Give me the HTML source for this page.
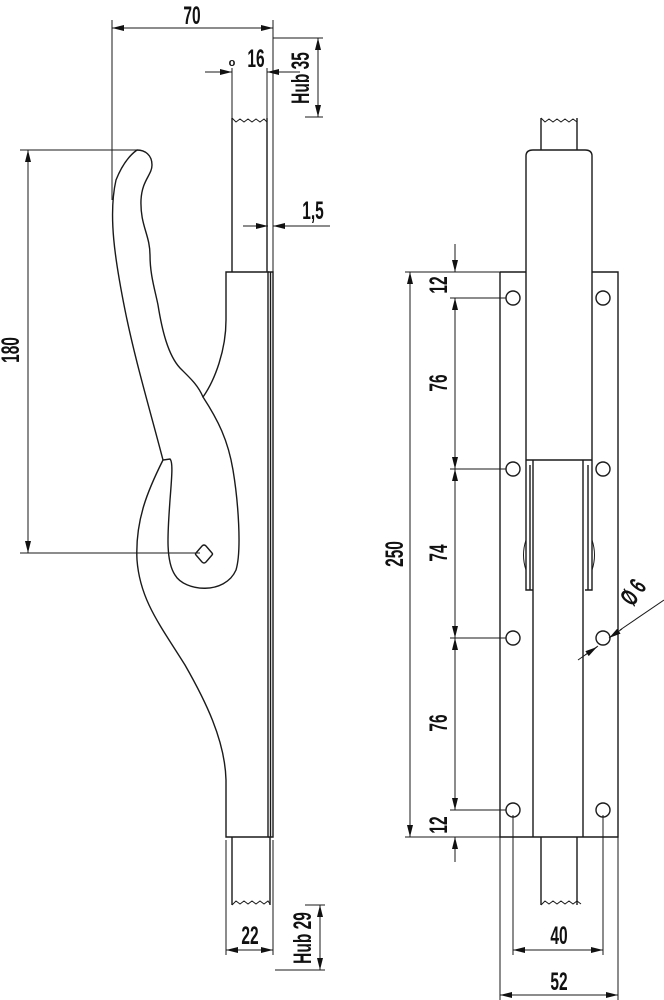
<!DOCTYPE html>
<html><head><meta charset="utf-8"><style>
html,body{margin:0;padding:0;background:#fff;}
svg{display:block;}
text{font-family:"Liberation Sans",sans-serif;font-size:25px;font-weight:bold;fill:#111;}
</style></head><body>
<svg width="664" height="1000" viewBox="0 0 664 1000" xmlns="http://www.w3.org/2000/svg">
<defs>
<marker id="a" viewBox="0 0 12 6" refX="12" refY="3" markerWidth="12" markerHeight="6" orient="auto-start-reverse" markerUnits="userSpaceOnUse"><path d="M0,0 L12,3 L0,6z" fill="#111"/></marker>
</defs>
<g fill="none" stroke="#1a1a1a" stroke-width="1.4">
<path d="M232,118 L232,272 M267,118 L267,272"/>
<path d="M232,118 l4,4 l4,-3 l4,3 l4,-3 l4,3 l4,-3 l4,3 l4,-3 l3,3" stroke-width="1"/>
<path d="M226,272 L268,272 L268,837 L226,837 L226,780 C225,740 205,700 185,665 C160,625 140,600 137,560 C135,520 148,490 163,460 L170,459 C173,462 172,475 170,500 C168,530 165,560 175,575 C185,592 225,595 236,570 C242,550 238,500 233,470 C228,440 218,420 203,397 C215,380 226,350 226,320 Z"/>
<path d="M268,272 L273,272 L273,837 L268,837 M270.5,272 L270.5,837"/>
<path d="M163,460 C150,410 135,360 125,310 C115,260 108,215 116,180 C122,165 130,155 137,150 C145,150 152,155 152,165 C152,175 142,180 141,200 C140,225 150,235 150,255 C150,275 155,290 158,305 C162,330 168,355 180,368 C190,378 198,385 203,397"/>
<path d="M196,553 l6,-7 q2,-2 4,0 l6,7 q1,1 0,2 l-6,7 q-2,2 -4,0 l-6,-7 q-1,-1 0,-2z"/>
<path d="M232,837 L232,905 M270,837 L270,905"/>
<path d="M232,905 l4,-4 l4,3 l4,-3 l4,3 l4,-3 l4,3 l4,-3 l4,3 l4,-3 l2,3" stroke-width="1"/>
<path d="M112,20 L112,200 M273,20 L273,272" stroke-width="1"/>
<path d="M112,28 L273,28" marker-start="url(#a)" marker-end="url(#a)" stroke-width="1"/>
<path d="M205,72 L232,72" marker-end="url(#a)" stroke-width="1"/>
<path d="M300,72 L267,72" marker-end="url(#a)" stroke-width="1"/>
<path d="M232,68 L232,118 M267,68 L267,118" stroke-width="1"/>
<path d="M273,38 L323,38 M305,117 L323,117" stroke-width="1"/>
<path d="M318,38 L318,117" marker-start="url(#a)" marker-end="url(#a)" stroke-width="1"/>
<path d="M243,226 L268,226" marker-end="url(#a)" stroke-width="1"/>
<path d="M330,226 L273,226" marker-end="url(#a)" stroke-width="1"/>
<path d="M20,150 L137,150 M20,553 L200,553" stroke-width="1"/>
<path d="M28,150 L28,553" marker-start="url(#a)" marker-end="url(#a)" stroke-width="1"/>
<path d="M226,840 L226,955 M273,840 L273,955" stroke-width="1"/>
<path d="M226,950 L273,950" marker-start="url(#a)" marker-end="url(#a)" stroke-width="1"/>
<path d="M305,905 L325,905 M275,970 L325,970" stroke-width="1"/>
<path d="M320,905 L320,970" marker-start="url(#a)" marker-end="url(#a)" stroke-width="1"/>

<path d="M541,118 L541,150 M577,118 L577,150"/>
<path d="M541,118 l4,4 l4,-3 l4,3 l4,-3 l4,3 l4,-3 l4,3 l4,-3 l4,3" stroke-width="1"/>
<path d="M526,272 L526,156 Q526,150 533,150 L585,150 Q592,150 592,156 L592,460"/>
<path d="M526,272 L526,590 L533,590 M592,460 L592,590 L585,590"/>
<path d="M526,460 L592,460"/>
<path d="M533,460 L533,837 M583,460 L583,837 M530,465 L530,590 M588,465 L588,590"/>
<path d="M526,540 q-5,15 0,30 M592,540 q5,15 0,30" stroke-width="1"/>
<path d="M500,272 L526,272 M592,272 L618,272 L618,837 L500,837 L500,272"/>
<circle cx="513" cy="298" r="7"/><circle cx="603" cy="298" r="7"/>
<circle cx="513" cy="469" r="7"/><circle cx="603" cy="469" r="7"/>
<circle cx="513" cy="638" r="7"/><circle cx="603" cy="638" r="7"/>
<circle cx="513" cy="810" r="7"/><circle cx="603" cy="810" r="7"/>
<path d="M541,837 L541,905 M577,837 L577,905"/>
<path d="M541,905 l4,-4 l4,3 l4,-3 l4,3 l4,-3 l4,3 l4,-3 l4,3 l4,-3 l4,3" stroke-width="1"/>
<path d="M405,272 L500,272 M405,837 L500,837" stroke-width="1"/>
<path d="M410,272 L410,837" marker-start="url(#a)" marker-end="url(#a)" stroke-width="1"/>
<path d="M450,298 L506,298 M450,469 L506,469 M450,638 L506,638 M450,810 L506,810" stroke-width="1"/>
<path d="M455,244 L455,272" marker-end="url(#a)" stroke-width="1"/>
<path d="M455,298 L455,469" marker-start="url(#a)" marker-end="url(#a)" stroke-width="1"/>
<path d="M455,469 L455,638" marker-start="url(#a)" marker-end="url(#a)" stroke-width="1"/>
<path d="M455,638 L455,810" marker-start="url(#a)" marker-end="url(#a)" stroke-width="1"/>
<path d="M455,862 L455,837" marker-end="url(#a)" stroke-width="1"/>
<path d="M513,815 L513,955 M603,815 L603,955 M500,837 L500,1000 M618,837 L618,1000" stroke-width="1"/>
<path d="M513,950 L603,950" marker-start="url(#a)" marker-end="url(#a)" stroke-width="1"/>
<path d="M500,995 L618,995" marker-start="url(#a)" marker-end="url(#a)" stroke-width="1"/>
<path d="M578,660 L598,646 M620,630 L664,600" stroke-width="1"/>
<path d="M585,655 L597,647" marker-end="url(#a)" stroke-width="1"/>
<path d="M622,629 L609,638" marker-end="url(#a)" stroke-width="1"/>
</g>
<g>
<text transform="translate(192,24) scale(0.62,1)" text-anchor="middle">70</text>
<text transform="translate(256,67) scale(0.62,1)" text-anchor="middle">16</text>
<text x="232" y="66" text-anchor="middle" style="font-size:11px">o</text>
<text transform="translate(309,78) rotate(-90) scale(0.62,1)" text-anchor="middle">Hub 35</text>
<text transform="translate(313,219) scale(0.62,1)" text-anchor="middle">1,5</text>
<text transform="translate(19,350) rotate(-90) scale(0.62,1)" text-anchor="middle">180</text>
<text transform="translate(250,944) scale(0.62,1)" text-anchor="middle">22</text>
<text transform="translate(311,938) rotate(-90) scale(0.62,1)" text-anchor="middle">Hub 29</text>
<text transform="translate(403,554) rotate(-90) scale(0.62,1)" text-anchor="middle">250</text>
<text transform="translate(447,285) rotate(-90) scale(0.62,1)" text-anchor="middle">12</text>
<text transform="translate(447,383) rotate(-90) scale(0.62,1)" text-anchor="middle">76</text>
<text transform="translate(447,553) rotate(-90) scale(0.62,1)" text-anchor="middle">74</text>
<text transform="translate(447,723) rotate(-90) scale(0.62,1)" text-anchor="middle">76</text>
<text transform="translate(447,825) rotate(-90) scale(0.62,1)" text-anchor="middle">12</text>
<text transform="translate(640,597) rotate(-55) scale(0.62,1)" text-anchor="middle">Ø 6</text>
<text transform="translate(559,944) scale(0.62,1)" text-anchor="middle">40</text>
<text transform="translate(559,990) scale(0.62,1)" text-anchor="middle">52</text>
</g>
</svg>
</body></html>
